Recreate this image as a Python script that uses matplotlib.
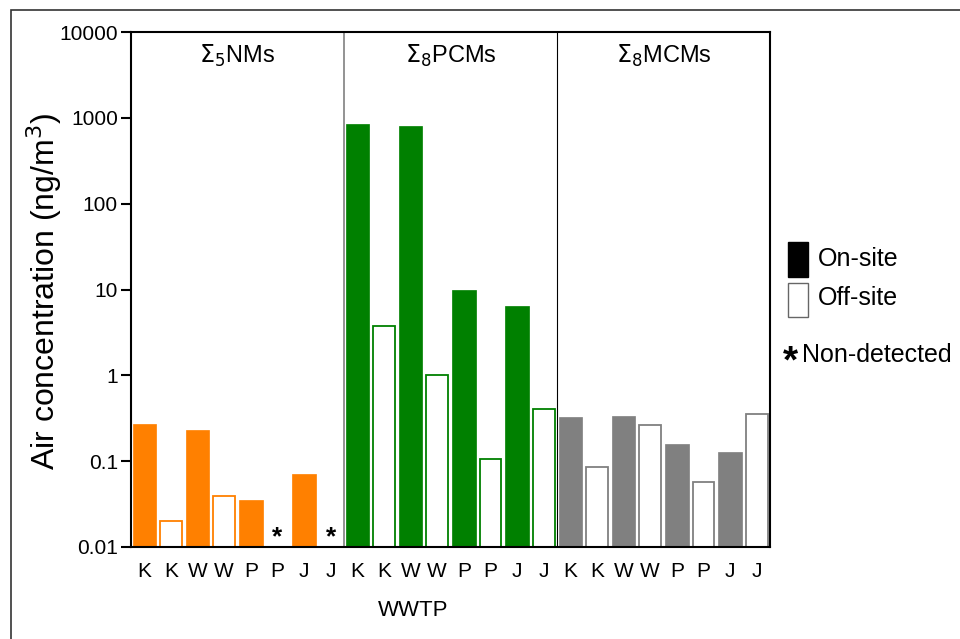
import numpy as np
import matplotlib.pyplot as plt
from matplotlib.patches import Rectangle

plt.rcParams['font.family'] = ['Liberation Sans', 'DejaVu Sans']

# data (ng/m3), None = non-detected
groups = ['$\\Sigma_5$NMs', '$\\Sigma_8$PCMs', '$\\Sigma_8$MCMs']
plants = ['K', 'K', 'W', 'W', 'P', 'P', 'J', 'J']
site = ['on', 'off', 'on', 'off', 'on', 'off', 'on', 'off']
nms = [0.27, 0.020, 0.23, 0.039, 0.035, None, 0.070, None]
pcms = [850, 3.8, 800, 1.0, 10, 0.107, 6.5, 0.40]
mcms = [0.33, 0.085, 0.34, 0.265, 0.157, 0.057, 0.128, 0.35]
colors = ['#ff8000', '#008000', '#808080']

fig = plt.figure(figsize=(9.6, 6.39), dpi=100)
ax = fig.add_axes([131/960, 1 - 547/639, (770-131)/960, (547-32)/639])

# outer frame like the original figure border
fig.patches.append(Rectangle((11/960, -0.1), 1.2, 1 - 10/639 + 0.1, transform=fig.transFigure,
                             fill=False, edgecolor='#333333', linewidth=1.2))

ymin = 0.01
for g, vals in enumerate([nms, pcms, mcms]):
    for i, v in enumerate(vals):
        x = g * 8 + i
        if v is None:
            ax.text(x, 0.0128, '*', ha='center', va='center', fontsize=19, fontweight='bold')
            continue
        if site[i] == 'on':
            ax.bar(x, v - ymin, bottom=ymin, width=0.88, color=colors[g], edgecolor=colors[g], linewidth=0.5)
        else:
            ax.bar(x, v - ymin, bottom=ymin, width=0.82, color='white', edgecolor=colors[g], linewidth=1.3)

ax.set_yscale('log')
ax.set_ylim(0.01, 10000)
ax.set_xlim(-0.5, 23.5)
ax.set_yticks([0.01, 0.1, 1, 10, 100, 1000, 10000])
ax.set_yticklabels(['0.01', '0.1', '1', '10', '100', '1000', '10000'], fontsize=15)
ax.minorticks_off()
ax.tick_params(axis='y', direction='out', length=7.5, width=1.5, pad=2)
ax.set_xticks(range(24))
ax.set_xticklabels(plants * 3, fontsize=15)
ax.tick_params(axis='x', length=0, pad=11)
for s in ax.spines.values():
    s.set_linewidth(1.5)

ax.axvline(7.5, color='#808080', linewidth=1.2)
ax.axvline(15.5, color='black', linewidth=0.8)
for g, name in enumerate(groups):
    ax.text(g * 8 + 3.5, 5200, name, ha='center', va='center', fontsize=17)

fig.text(44/960, 1 - 291/639, 'Air concentration (ng/m$^3$)', fontsize=23,
         rotation=90, ha='center', va='center')
fig.text(413/960, 1 - 611/639, 'WWTP', fontsize=16, ha='center', va='center')

# legend
fig.patches.append(Rectangle((788/960, 1 - 277/639), 20/960, 35/639, transform=fig.transFigure,
                             facecolor='black', edgecolor='black'))
fig.patches.append(Rectangle((788/960, 1 - 317/639), 20/960, 34/639, transform=fig.transFigure,
                             facecolor='white', edgecolor='#666666', linewidth=1))
fig.text(818/960, 1 - 259/639, 'On-site', fontsize=18, va='center')
fig.text(818/960, 1 - 298/639, 'Off-site', fontsize=18, va='center')
fig.text(783/960, 1 - 362/639, '*', fontsize=28, fontweight='bold', va='center')
fig.text(802/960, 1 - 355/639, 'Non-detected', fontsize=18, va='center')

fig.savefig('out.png', dpi=100)
